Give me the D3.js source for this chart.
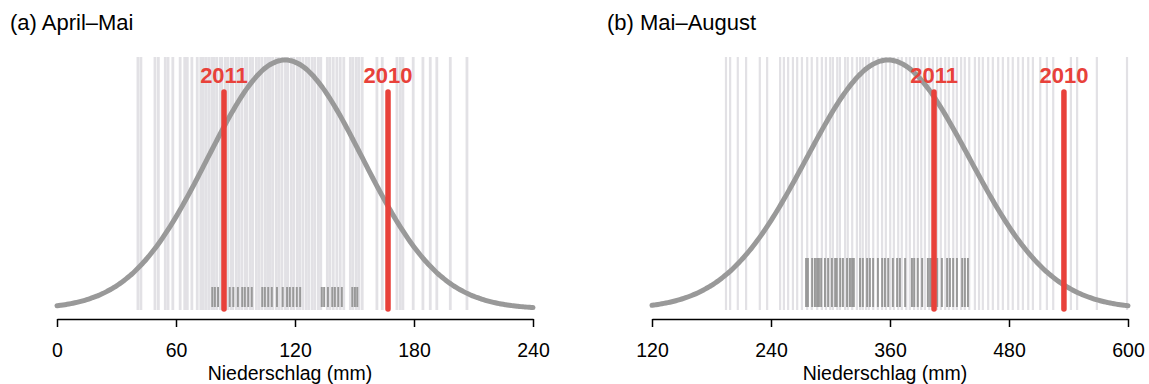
<!DOCTYPE html>
<html>
<head>
<meta charset="utf-8">
<script src="https://cdn.jsdelivr.net/npm/d3@7"></script>
<style>
  html, body { margin: 0; padding: 0; background: #fff; }
  svg { display: block; font-family: "Liberation Sans", Arial, sans-serif; }
</style>
</head>
<body>
<svg id="chart" width="1149" height="384"></svg>
<script>
// ---- Data: seasonal precipitation (mm) ----
const titles = ["(a) April\u2013Mai", "(b) Mai\u2013August"];
const axisTitle = "Niederschlag (mm)";
const ticksA = [0, 60, 120, 180, 240];
const ticksB = [120, 240, 360, 480, 600];

// all years (light rug)
const allYearsA = [40.8, 42.3, 49.4, 51.1, 54.6, 56.0, 58.4, 62.1, 64.4, 65.7, 68.0, 70.7,
  72.5, 73.8, 75.2, 76.6, 78.1, 79.3, 80.6, 82.4, 83.1, 84.9, 86.1, 87.8, 88.6, 90.4, 91.7,
  93.2, 94.9, 95.7, 97.4, 98.6, 100.5, 101.8, 103.3, 105.0, 106.2, 107.5, 108.8, 110.6, 111.9,
  113.4, 115.2, 116.3, 118.1, 119.4, 121.2, 122.4, 124.0, 125.7, 127.0, 128.7, 130.0, 131.8,
  133.0, 136.3, 137.6, 139.3, 141.1, 142.8, 144.6, 147.9, 149.2, 150.9, 152.2, 153.9, 161.3,
  164.0, 171.4, 173.1, 174.4, 179.6, 184.5, 188.2, 191.5, 198.3, 206.7];
const allYearsB = [194.6, 198.8, 206.5, 214.9, 228.7, 236.1, 249.2, 253.0, 257.3, 262.1,
  266.4, 271.2, 276.5, 281.1, 286.6, 291.3, 295.4, 299.7, 302.4, 306.8, 309.5, 314.7, 317.4,
  321.9, 326.6, 329.8, 332.5, 335.9, 338.6, 343.1, 347.7, 352.0, 355.8, 360.2, 363.9, 368.3,
  371.9, 376.4, 380.0, 384.3, 388.1, 391.5, 395.2, 399.6, 403.2, 407.5, 411.2, 415.7, 419.3,
  423.8, 427.4, 431.7, 435.4, 439.9, 445.6, 449.8, 453.6, 459.0, 463.7, 469.1, 473.8, 479.2,
  483.8, 489.3, 494.0, 499.4, 504.1, 511.5, 518.2, 524.6, 542.4, 548.7, 568.6, 599.0];

// reference period (dark rug)
const refYearsA = [78.3, 79.6, 81.2, 83.8, 87.1, 88.9, 91.2, 93.4, 94.7, 96.4, 98.2, 103.5,
  104.8, 106.5, 108.3, 110.9, 113.8, 116.0, 117.4, 119.1, 120.9, 122.6, 133.5, 134.7, 136.6,
  138.8, 140.1, 141.8, 143.6, 148.9, 150.2, 151.4];
const refYearsB = [275.4, 277.2, 281.5, 284.3, 286.5, 288.3, 290.6, 294.4, 297.6, 301.4,
  304.7, 306.3, 309.8, 312.5, 316.7, 319.6, 321.8, 323.5, 329.8, 332.6, 336.9, 339.7, 343.0,
  347.8, 352.1, 354.9, 358.2, 362.9, 367.2, 370.0, 375.3, 382.1, 384.4, 388.0, 392.4, 398.2,
  400.5, 402.2, 407.6, 412.3, 417.6, 420.4, 423.7, 427.5, 432.8, 435.5, 438.6];

// highlighted years
const highlightYears = ["2011", "2010"];
const highlightA = [84.2, 166.9];
const highlightB = [404.4, 535.4];

// normal fit (mean, standard deviation)
const fitA = [115, 39];
const fitB = [358, 82];

// ---- Layout ----
const panels = [
  { title: titles[0], x0: 57, x1: 533, domain: [0, 240], ticks: ticksA, all: allYearsA,
    ref: refYearsA, hl: highlightA, fit: fitA, titleX: 10, refTop: 287, rugW: 2.8 },
  { title: titles[1], x0: 652, x1: 1128, domain: [120, 600], ticks: ticksB, all: allYearsB,
    ref: refYearsB, hl: highlightB, fit: fitB, titleX: 607, refTop: 258, rugW: 2.2 }
];

const svg = d3.select("#chart");
const axisY = 319;
const baseY = 309;
const peakY = 60;
const rugTop = 57;
const rugBottom = 310;
const red = "#e8413a";

function normalPdf(x, mu, sd) {
  return Math.exp(-0.5 * ((x - mu) / sd) ** 2) / (sd * Math.sqrt(2 * Math.PI));
}

panels.forEach(p => {
  const g = svg.append("g");
  const x = d3.scaleLinear().domain(p.domain).range([p.x0, p.x1]);
  const [mu, sd] = p.fit;
  const y = d3.scaleLinear().domain([0, normalPdf(mu, mu, sd)]).range([baseY, peakY]);

  // light rug: every year
  g.append("g").selectAll("line").data(p.all).join("line")
    .attr("x1", d => x(d)).attr("x2", d => x(d))
    .attr("y1", rugTop).attr("y2", rugBottom)
    .attr("stroke", "#e2e1e5").attr("stroke-width", p.rugW);

  // dark rug: reference period
  g.append("g").selectAll("line").data(p.ref).join("line")
    .attr("x1", d => x(d)).attr("x2", d => x(d))
    .attr("y1", p.refTop).attr("y2", 307)
    .attr("stroke", "#999").attr("stroke-width", 2);

  // fitted normal curve
  const xs = d3.range(0, 241).map(i => p.domain[0] + (p.domain[1] - p.domain[0]) * i / 240);
  g.append("path")
    .datum(xs)
    .attr("d", d3.line().x(d => x(d)).y(d => y(normalPdf(d, mu, sd))).curve(d3.curveBasis))
    .attr("fill", "none").attr("stroke", "#999").attr("stroke-width", 5)
    .attr("stroke-linecap", "round");

  // highlighted years
  p.hl.forEach((v, i) => {
    g.append("line")
      .attr("x1", x(v)).attr("x2", x(v)).attr("y1", 92).attr("y2", baseY)
      .attr("stroke", red).attr("stroke-width", 5.5).attr("stroke-linecap", "round");
    g.append("text")
      .attr("x", x(v)).attr("y", 83)
      .attr("text-anchor", "middle")
      .attr("font-size", 22).attr("font-weight", "bold")
      .attr("fill", red)
      .text(highlightYears[i]);
  });

  // x axis
  const ax = g.append("g").attr("transform", `translate(0,${axisY})`)
    .call(d3.axisBottom(x).tickValues(p.ticks).tickSize(8).tickPadding(16).tickSizeOuter(0));
  ax.select(".domain").attr("stroke", "#000").attr("stroke-width", 1.5);
  ax.selectAll(".tick line").attr("stroke", "#000").attr("stroke-width", 1.5);
  ax.selectAll(".tick text").attr("font-size", 19.5).attr("fill", "#000")
    .attr("font-family", "Liberation Sans, Arial, sans-serif");

  g.append("text")
    .attr("x", (p.x0 + p.x1) / 2 - 5).attr("y", 380)
    .attr("text-anchor", "middle").attr("font-size", 19.5).attr("fill", "#000")
    .text(axisTitle);

  g.append("text")
    .attr("x", p.titleX).attr("y", 30)
    .attr("font-size", 22).attr("fill", "#000")
    .text(p.title);
});
</script>
</body>
</html>
